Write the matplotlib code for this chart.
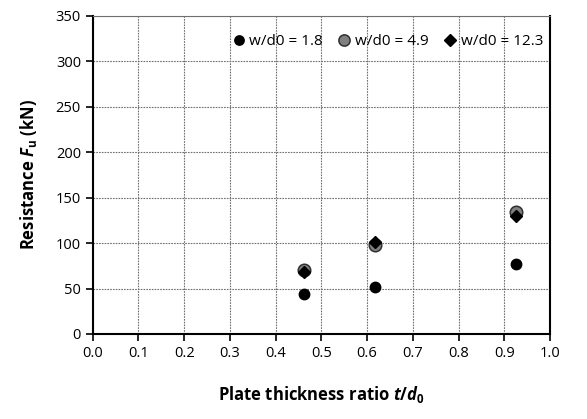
import matplotlib
matplotlib.use("Agg")
import matplotlib.pyplot as plt

plt.rcParams['font.family'] = ['Open Sans', 'DejaVu Sans']
plt.rcParams['mathtext.fontset'] = 'custom'
plt.rcParams['mathtext.it'] = 'Open Sans:bold:italic'
plt.rcParams['mathtext.rm'] = 'Open Sans:bold'
plt.rcParams['mathtext.bf'] = 'Open Sans:bold'

x_vals = [0.463, 0.618, 0.926]
s18 = [44, 52, 77]
s49 = [70, 98, 134]
s123 = [68, 101, 130]
labels = ["w/d0 = 1.8", "w/d0 = 4.9", "w/d0 = 12.3"]

fig = plt.figure(figsize=(5.87, 4.19), dpi=100)
ax = fig.add_axes([0.158, 0.203, 0.779, 0.759])

ax.plot(x_vals, s49, 'o', ms=9, mfc='#808080', mec='#303030', mew=1.1, ls='none', label=labels[1], zorder=3)
ax.plot(x_vals, s123, 'D', ms=6.5, color='black', ls='none', label=labels[2], zorder=4)
ax.plot(x_vals, s18, 'o', ms=7.5, color='black', ls='none', label=labels[0], zorder=3)

ax.set_xlim(0, 1.0)
ax.set_ylim(0, 350)
ax.set_xticks([i / 10 for i in range(11)])
ax.set_xticklabels([f"{i/10:.1f}" for i in range(11)])
ax.set_yticks(range(0, 351, 50))
ax.tick_params(direction='out', length=5, width=1.2, labelsize=10.5, colors='black')
ax.grid(True, color='#707070', ls=(0, (1.5, 1)), lw=0.8)
ax.set_axisbelow(True)
for s in ['left', 'bottom', 'right']:
    ax.spines[s].set_linewidth(1.5)
ax.spines['top'].set_linewidth(0.8)
ax.spines['top'].set_color('#707070')
ax.spines['top'].set_linestyle((0, (1.5, 1)))

ax.set_ylabel(r"Resistance $F_\mathrm{u}$ (kN)", fontsize=12, fontweight='bold', labelpad=12)
ax.set_xlabel(r"Plate thickness ratio $t/d_\mathrm{0}$", fontsize=12, fontweight='bold', labelpad=17)

h, l = ax.get_legend_handles_labels()
order = [2, 0, 1]
ax.legend([h[i] for i in order], [l[i] for i in order], loc='upper right', ncol=3, frameon=False,
          handletextpad=0.2, columnspacing=0.9, handlelength=1.0, fontsize=11,
          bbox_to_anchor=(1.015, 0.985), markerscale=0.9)

fig.savefig("out.png", dpi=100)
